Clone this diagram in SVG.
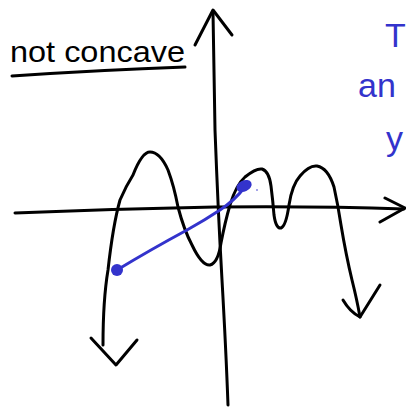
<svg xmlns="http://www.w3.org/2000/svg" width="406" height="407" viewBox="0 0 406 407">
<style>
.ink{fill:none;stroke:#000;stroke-width:3;stroke-linecap:round;stroke-linejoin:round}
.blue{fill:none;stroke:#3333cc;stroke-width:3;stroke-linecap:round;stroke-linejoin:round}
.bt{fill:#3333cc;font-family:"Liberation Sans",sans-serif;font-size:34px}
.kt{fill:#000;font-family:"Liberation Sans",sans-serif;font-size:30px}
</style>
<rect width="406" height="407" fill="#fff"/>
<text class="kt" x="10" y="62" textLength="175" lengthAdjust="spacingAndGlyphs">not concave</text>
<path class="ink" d="M12 76 Q100 70 185 67"/>
<path class="ink" d="M213 12 Q214 70 215 130 Q218 210 222 280 Q226 350 228 405"/>
<path class="ink" d="M195 45 L213 10 L232 35"/>
<path class="ink" d="M15 213 Q110 209 215 207 Q320 206 404 209"/>
<path class="ink" d="M385 198 L405 208 L380 222"/>
<path class="ink" d="M103 345 Q103 300 108 270 Q113 225 120 200 Q126 186 133 175 Q142 152 150 152 Q160 152 168 170 Q174 186 178 207 Q184 230 192 245 Q202 266 210 265 Q218 263 221 243 Q225 222 230 205 Q236 185 245 177 Q256 168 262 169 Q269 171 271 186 Q273 202 274 215 Q276 229 281 228 Q286 226 289 205 Q292 185 300 176 Q309 165 317 166 Q328 168 334 187 Q338 205 341 225 Q346 255 352 280 Q357 300 360 317"/>
<path class="ink" d="M91 338 L116 365 L137 340"/>
<path class="ink" d="M343 300 Q350 312 360 317 L380 285"/>
<path class="blue" d="M117 270 Q150 250 187 230 Q205 220 220 210 Q235 200 244 188"/>
<circle cx="117" cy="270" r="6" fill="#3333cc"/>
<ellipse cx="244" cy="186" rx="8" ry="5.5" transform="rotate(-25 244 186)" fill="#3333cc"/>
<circle cx="257" cy="190" r="0.8" fill="#3333cc"/>
<text class="bt" x="385" y="47">T</text>
<text class="bt" x="358" y="97">an</text>
<text class="bt" x="386" y="150">y</text>
</svg>
